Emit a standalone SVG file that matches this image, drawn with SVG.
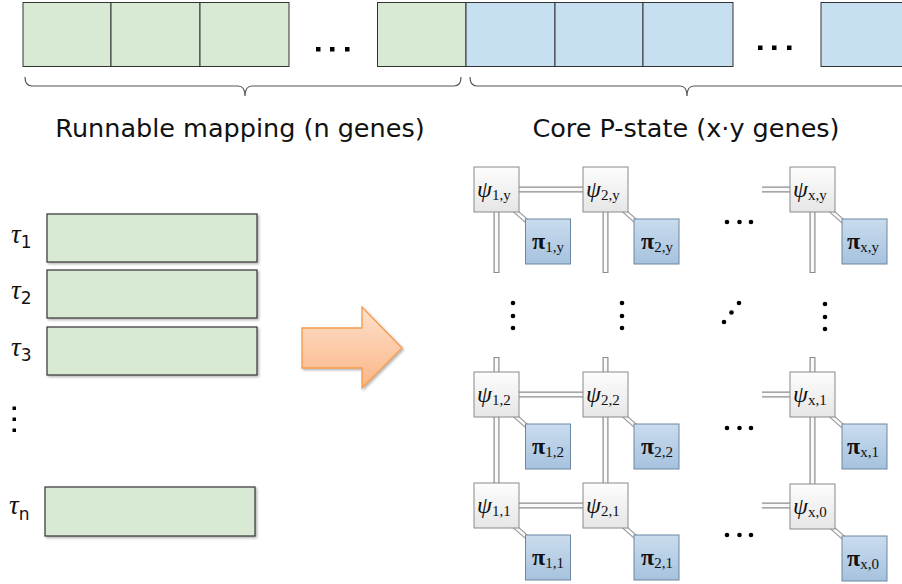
<svg xmlns="http://www.w3.org/2000/svg" width="902" height="584" viewBox="0 0 902 584">
<defs>
<linearGradient id="gPsi" x1="0" y1="0" x2="0" y2="1"><stop offset="0" stop-color="#fdfdfd"/><stop offset="1" stop-color="#e6e6e6"/></linearGradient>
<linearGradient id="gPi" x1="0" y1="0" x2="0" y2="1"><stop offset="0" stop-color="#cadcee"/><stop offset="1" stop-color="#a6c2de"/></linearGradient>
<linearGradient id="gArrow" x1="0" y1="0" x2="0" y2="1"><stop offset="0" stop-color="#fde0cc"/><stop offset="1" stop-color="#fbb686"/></linearGradient>
<filter id="sh" x="-20%" y="-20%" width="140%" height="140%"><feDropShadow dx="1.5" dy="1.5" stdDeviation="1.2" flood-color="#000" flood-opacity="0.3"/></filter>
<style>
.gene{stroke:#333;stroke-width:1}
.green{fill:#d9ead4}
.blue{fill:#c6e0f1}
.task{fill:#d9ead4;stroke:#333;stroke-width:1.2}
.brace{fill:none;stroke:#555;stroke-width:1.2}
.lbl{font-family:"DejaVu Sans",Verdana,sans-serif;font-size:25.5px;fill:#111}
.tau{font-family:"Liberation Serif",serif;font-style:italic;font-size:27px;fill:#111}
.sub{font-family:"DejaVu Sans",sans-serif;font-style:normal;font-size:17px}
.psi{fill:url(#gPsi);stroke:#8a8a8a;stroke-width:1}
.pi{fill:url(#gPi);stroke:#6d86a0;stroke-width:1}
.m{font-family:"Liberation Serif","Times New Roman",serif;font-size:24px;fill:#111}
.mi{font-style:italic}
.ms{font-size:15px;font-style:normal;font-weight:normal}
.pg{font-weight:bold}
.po{stroke:#8c8c8c;stroke-width:6;fill:none}
.pw{stroke:#fafafa;stroke-width:3.6;fill:none}
.do{stroke:#9a9a9a;stroke-width:5;fill:none}
.dw{stroke:#fafafa;stroke-width:2.6;fill:none}
.dot{fill:#000}
</style>
</defs>
<rect width="902" height="584" fill="#fff"/>

<g id="chromosome">
<rect class="gene green" x="23" y="2.5" width="88" height="64"/>
<rect class="gene green" x="111" y="2.5" width="89" height="64"/>
<rect class="gene green" x="200" y="2.5" width="89" height="64"/>
<rect class="gene green" x="377.5" y="2.5" width="88.5" height="64"/>
<rect class="gene blue" x="466" y="2.5" width="89" height="64"/>
<rect class="gene blue" x="555" y="2.5" width="88" height="64"/>
<rect class="gene blue" x="643" y="2.5" width="90" height="64"/>
<rect class="gene blue" x="821" y="2.5" width="90" height="64"/>
<rect x="316" y="47" width="4.5" height="4.5" class="dot"/>
<rect x="330" y="47" width="4.5" height="4.5" class="dot"/>
<rect x="345" y="47" width="4.5" height="4.5" class="dot"/>
<rect x="758" y="45.5" width="4.5" height="4.5" class="dot"/>
<rect x="772" y="45.5" width="4.5" height="4.5" class="dot"/>
<rect x="787" y="45.5" width="4.5" height="4.5" class="dot"/>
</g>

<g id="braces">
<path class="brace" d="M25,77 Q25,86 32,86 L238,86 Q245,86 245,96 Q245,86 252,86 L454,86 Q461,86 461,77"/>
<path class="brace" d="M470,77 Q470,86 477,86 L680,86 Q687,86 687,96 Q687,86 694,86 L905,86"/>
<text class="lbl" x="240" y="137" text-anchor="middle">Runnable mapping (n genes)</text>
<text class="lbl" x="686" y="137" text-anchor="middle">Core P-state (x·y genes)</text>
</g>

<g id="tasks">
<rect class="task" x="47" y="214" width="210" height="48" filter="url(#sh)"/>
<rect class="task" x="47" y="270" width="210" height="48" filter="url(#sh)"/>
<rect class="task" x="47" y="327" width="210" height="48" filter="url(#sh)"/>
<rect class="task" x="45" y="487" width="210" height="49" filter="url(#sh)"/>
<text class="tau" x="11" y="243">τ<tspan class="sub" dy="5">1</tspan></text>
<text class="tau" x="11" y="299">τ<tspan class="sub" dy="5">2</tspan></text>
<text class="tau" x="11" y="356">τ<tspan class="sub" dy="5">3</tspan></text>
<text class="tau" x="9" y="514">τ<tspan class="sub" dy="6">n</tspan></text>
<rect x="12.5" y="406.5" width="3.5" height="3.5" class="dot"/>
<rect x="12.5" y="417.5" width="3.5" height="3.5" class="dot"/>
<rect x="12.5" y="428.5" width="3.5" height="3.5" class="dot"/>
</g>

<g id="arrow">
<path d="M302,328 L362,328 L362,307 L402,348 L362,388 L362,368 L302,368 Z" fill="url(#gArrow)" stroke="#f39a4c" stroke-width="1.3" filter="url(#sh)"/>
</g>

<g id="connectors">
<path class="po" d="M519,189.5H583 M762,189.5H790 M496.5,212V273 M605.5,212V273 M812.5,212V273 M496.5,357V372 M605.5,357V372 M812.5,357V372 M519,394.5H583 M762,394.5H790 M496.5,417V483 M605.5,417V483 M812.5,417V484 M519,505.5H583 M762,505.5H790"/>
<path class="pw" d="M519,189.5H583 M761,189.5H790 M496.5,212V272 M605.5,212V272 M812.5,212V272 M496.5,358V372 M605.5,358V372 M812.5,358V372 M519,394.5H583 M761,394.5H790 M496.5,417V483 M605.5,417V483 M812.5,417V484 M519,505.5H583 M761,505.5H790"/>
<path class="do" d="M513,209L530,224 M622,209L639,224 M829,209L846,224 M513,414L530,429 M622,414L639,429 M829,414L846,429 M513,525L530,540 M622,525L639,540 M829,525L846,540"/>
<path class="dw" d="M513,209L530,224 M622,209L639,224 M829,209L846,224 M513,414L530,429 M622,414L639,429 M829,414L846,429 M513,525L530,540 M622,525L639,540 M829,525L846,540"/>
</g>

<g id="psi_1_y"><rect class="psi" x="474" y="167" width="45" height="45"/><text class="m" x="477" y="197"><tspan class="mi">ψ</tspan><tspan class="ms" dy="3">1,y</tspan></text></g>
<g id="pi_1_y"><rect class="pi" x="525.5" y="219" width="45" height="45"/><text class="m" x="532" y="249"><tspan class="pg">π</tspan><tspan class="ms" dy="3">1,y</tspan></text></g>
<g id="psi_2_y"><rect class="psi" x="583" y="167" width="45" height="45"/><text class="m" x="586" y="197"><tspan class="mi">ψ</tspan><tspan class="ms" dy="3">2,y</tspan></text></g>
<g id="pi_2_y"><rect class="pi" x="634" y="219" width="45" height="45"/><text class="m" x="641" y="249"><tspan class="pg">π</tspan><tspan class="ms" dy="3">2,y</tspan></text></g>
<g id="psi_x_y"><rect class="psi" x="790" y="167" width="45" height="45"/><text class="m" x="793" y="197"><tspan class="mi">ψ</tspan><tspan class="ms" dy="3">x,y</tspan></text></g>
<g id="pi_x_y"><rect class="pi" x="842" y="219" width="45" height="45"/><text class="m" x="847" y="249"><tspan class="pg">π</tspan><tspan class="ms" dy="3">x,y</tspan></text></g>

<g id="psi_1_2"><rect class="psi" x="474" y="372" width="45" height="45"/><text class="m" x="477" y="402"><tspan class="mi">ψ</tspan><tspan class="ms" dy="3">1,2</tspan></text></g>
<g id="pi_1_2"><rect class="pi" x="525.5" y="424" width="45" height="45"/><text class="m" x="532" y="454"><tspan class="pg">π</tspan><tspan class="ms" dy="3">1,2</tspan></text></g>
<g id="psi_2_2"><rect class="psi" x="583" y="372" width="45" height="45"/><text class="m" x="586" y="402"><tspan class="mi">ψ</tspan><tspan class="ms" dy="3">2,2</tspan></text></g>
<g id="pi_2_2"><rect class="pi" x="634" y="424" width="45" height="45"/><text class="m" x="641" y="454"><tspan class="pg">π</tspan><tspan class="ms" dy="3">2,2</tspan></text></g>
<g id="psi_x_1"><rect class="psi" x="790" y="372" width="45" height="45"/><text class="m" x="793" y="402"><tspan class="mi">ψ</tspan><tspan class="ms" dy="3">x,1</tspan></text></g>
<g id="pi_x_1"><rect class="pi" x="842" y="424" width="45" height="45"/><text class="m" x="847" y="454"><tspan class="pg">π</tspan><tspan class="ms" dy="3">x,1</tspan></text></g>

<g id="psi_1_1"><rect class="psi" x="474" y="483" width="45" height="45"/><text class="m" x="477" y="513"><tspan class="mi">ψ</tspan><tspan class="ms" dy="3">1,1</tspan></text></g>
<g id="pi_1_1"><rect class="pi" x="525.5" y="535" width="45" height="45"/><text class="m" x="532" y="565"><tspan class="pg">π</tspan><tspan class="ms" dy="3">1,1</tspan></text></g>
<g id="psi_2_1"><rect class="psi" x="583" y="483" width="45" height="45"/><text class="m" x="586" y="513"><tspan class="mi">ψ</tspan><tspan class="ms" dy="3">2,1</tspan></text></g>
<g id="pi_2_1"><rect class="pi" x="634" y="535" width="45" height="45"/><text class="m" x="641" y="565"><tspan class="pg">π</tspan><tspan class="ms" dy="3">2,1</tspan></text></g>
<g id="psi_x_0"><rect class="psi" x="790" y="484" width="45" height="45"/><text class="m" x="793" y="514"><tspan class="mi">ψ</tspan><tspan class="ms" dy="3">x,0</tspan></text></g>
<g id="pi_x_0"><rect class="pi" x="842" y="536" width="45" height="45"/><text class="m" x="847" y="566"><tspan class="pg">π</tspan><tspan class="ms" dy="3">x,0</tspan></text></g>

<g id="ellipses">
<circle class="dot" cx="727" cy="222" r="2.3"/><circle class="dot" cx="739.5" cy="222" r="2.3"/><circle class="dot" cx="751" cy="222" r="2.3"/>
<circle class="dot" cx="727" cy="428" r="2.3"/><circle class="dot" cx="739.5" cy="428" r="2.3"/><circle class="dot" cx="751" cy="428" r="2.3"/>
<circle class="dot" cx="727" cy="535" r="2.3"/><circle class="dot" cx="739.5" cy="535" r="2.3"/><circle class="dot" cx="751" cy="535" r="2.3"/>
<circle class="dot" cx="513" cy="303" r="2.3"/><circle class="dot" cx="513" cy="316" r="2.3"/><circle class="dot" cx="513" cy="328" r="2.3"/>
<circle class="dot" cx="622" cy="303" r="2.3"/><circle class="dot" cx="622" cy="316" r="2.3"/><circle class="dot" cx="622" cy="328" r="2.3"/>
<circle class="dot" cx="825" cy="304" r="2.3"/><circle class="dot" cx="825" cy="317" r="2.3"/><circle class="dot" cx="825" cy="329" r="2.3"/>
<circle class="dot" cx="724" cy="322" r="2.3"/><circle class="dot" cx="731.5" cy="312.5" r="2.3"/><circle class="dot" cx="739" cy="303" r="2.3"/>
</g>
</svg>
